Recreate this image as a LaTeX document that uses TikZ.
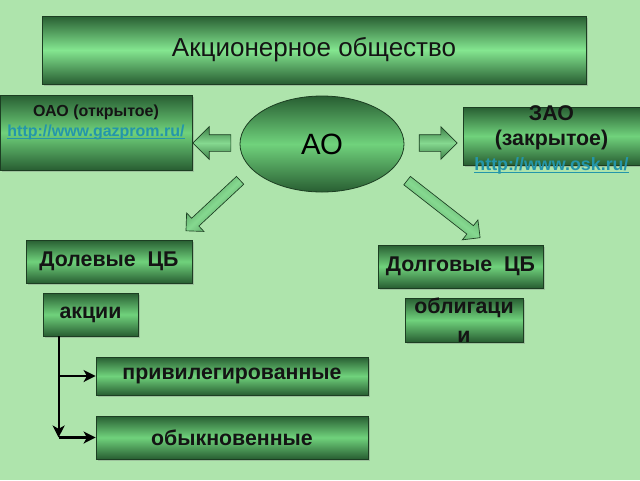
\documentclass[tikz,border=0pt]{standalone}
\usepackage{fontspec}
\setmainfont{Liberation Sans}
\usepackage{tikz}
\usetikzlibrary{calc}
\usetikzlibrary{positioning}
\usetikzlibrary{shapes}
\usetikzlibrary{arrows}
\usetikzlibrary{arrows.meta}
\usetikzlibrary{shadows}

\definecolor{bgGreen}{RGB}{174,228,172}
\definecolor{boxDark}{RGB}{40,94,50}
\definecolor{boxLight}{RGB}{112,210,124}
\definecolor{titleLight}{RGB}{132,230,144}
\definecolor{lineDark}{RGB}{28,62,34}
\definecolor{linkTeal}{RGB}{36,150,170}

\newcommand{\weblink}[1]{{\color{linkTeal}\underline{\smash{#1}}}}

\begin{document}
\begin{tikzpicture}[x=0.75pt, y=-0.75pt,
		gbox/.style={draw=lineDark, line width=0.6pt, top color=boxDark, bottom color=boxDark, middle color=boxLight,
			inner sep=0pt, text=black!92, font=\bfseries\fontsize{16}{19}\selectfont,
			drop shadow={shadow xshift=1.3pt, shadow yshift=-1.3pt, opacity=0.35}},
		barrow/.style={single arrow, draw=lineDark, line width=0.5pt, top color=boxDark!70!boxLight, bottom color=boxDark!70!boxLight,
			middle color=boxLight!85!white, inner sep=0pt},
		>={Stealth[length=9pt, width=9pt, inset=2.5pt]}]
				\path[use as bounding box, fill=bgGreen] (0,0) rectangle (640,480);
				
				\node[gbox, minimum width=408pt, minimum height=51pt, middle color=titleLight,
					font=\fontsize{19.5}{22}\selectfont] (title) at (314,50) {Акционерное общество};
				\node[gbox, minimum width=144pt, minimum height=56.25pt,
					label={[anchor=north, align=center, text=black!92, font=\bfseries\fontsize{12}{15}\selectfont, yshift=-4pt]north:{ОАО (открытое)\\\weblink{http://www.gazprom.ru/}}}] (oao) at (96,132.5) {};
				\node[ellipse, draw=lineDark, line width=0.6pt, top color=boxDark, bottom color=boxDark, middle color=boxLight,
					minimum width=123pt, minimum height=72pt, font=\fontsize{22}{26}\selectfont] (ao) at (322,144) {АО};
				\node[gbox, minimum width=132.75pt, minimum height=43.5pt,
					label={[align=center, text=black!92, font=\bfseries\fontsize{16}{19}\selectfont, yshift=-2.5pt]center:{ЗАО\\(закрытое)\\{\fontsize{13.4}{15}\selectfont\weblink{http://www.osk.ru/}}}}] (zao) at (551.5,136) {};
				
				\node[gbox, minimum width=124.5pt, minimum height=32.25pt] (dolev) at (109,261.5) {Долевые~ ЦБ};
				\node[gbox, minimum width=123.75pt, minimum height=32.25pt] (dolgov) at (460.5,266.5) {Долговые~ ЦБ};
				\node[gbox, minimum width=71.25pt, minimum height=32.25pt] (akcii) at (90.5,314.5) {акции};
				\node[gbox, minimum width=88.5pt, minimum height=33pt,
					label={[align=center, text=black!92, font=\bfseries\fontsize{16}{22}\selectfont]center:{облигаци\\и}}] (oblig) at (464,320) {};
				\node[gbox, minimum width=204pt, minimum height=28.5pt] (priv) at (232,376) {привилегированные};
				\node[gbox, minimum width=204pt, minimum height=32.25pt] (obyk) at (232,437.5) {обыкновенные};
				
				% block arrows from AO
				\node[barrow, minimum height=28.5pt, inner ysep=6pt, single arrow head extend=6pt, rotate=180] (toOAO) at (216,143) {};
				\node[barrow, minimum height=28.5pt, inner ysep=6pt, single arrow head extend=6pt] (toZAO) at (434,143) {};
				\node[barrow, minimum height=55.5pt, inner ysep=3.75pt, single arrow head extend=5.5pt, rotate=223, shading angle=223] (toDolev) at (215,203.75) {};
				\node[barrow, minimum height=69.5pt, inner ysep=3.75pt, single arrow head extend=5.5pt, rotate=-38, shading angle=-38] (toDolgov) at (441.5,207.5) {};
				
				\coordinate (trunk) at ($(akcii.south west)+(16,0)$);
				\draw[line width=1.6pt, ->] (trunk) -- (trunk |- obyk.west);
				\draw[line width=1.6pt, ->] (trunk |- priv.west) -- (priv.west);
				\draw[line width=1.6pt, ->] (trunk |- obyk.west) -- (obyk.west);
			\end{tikzpicture}
\end{document}
